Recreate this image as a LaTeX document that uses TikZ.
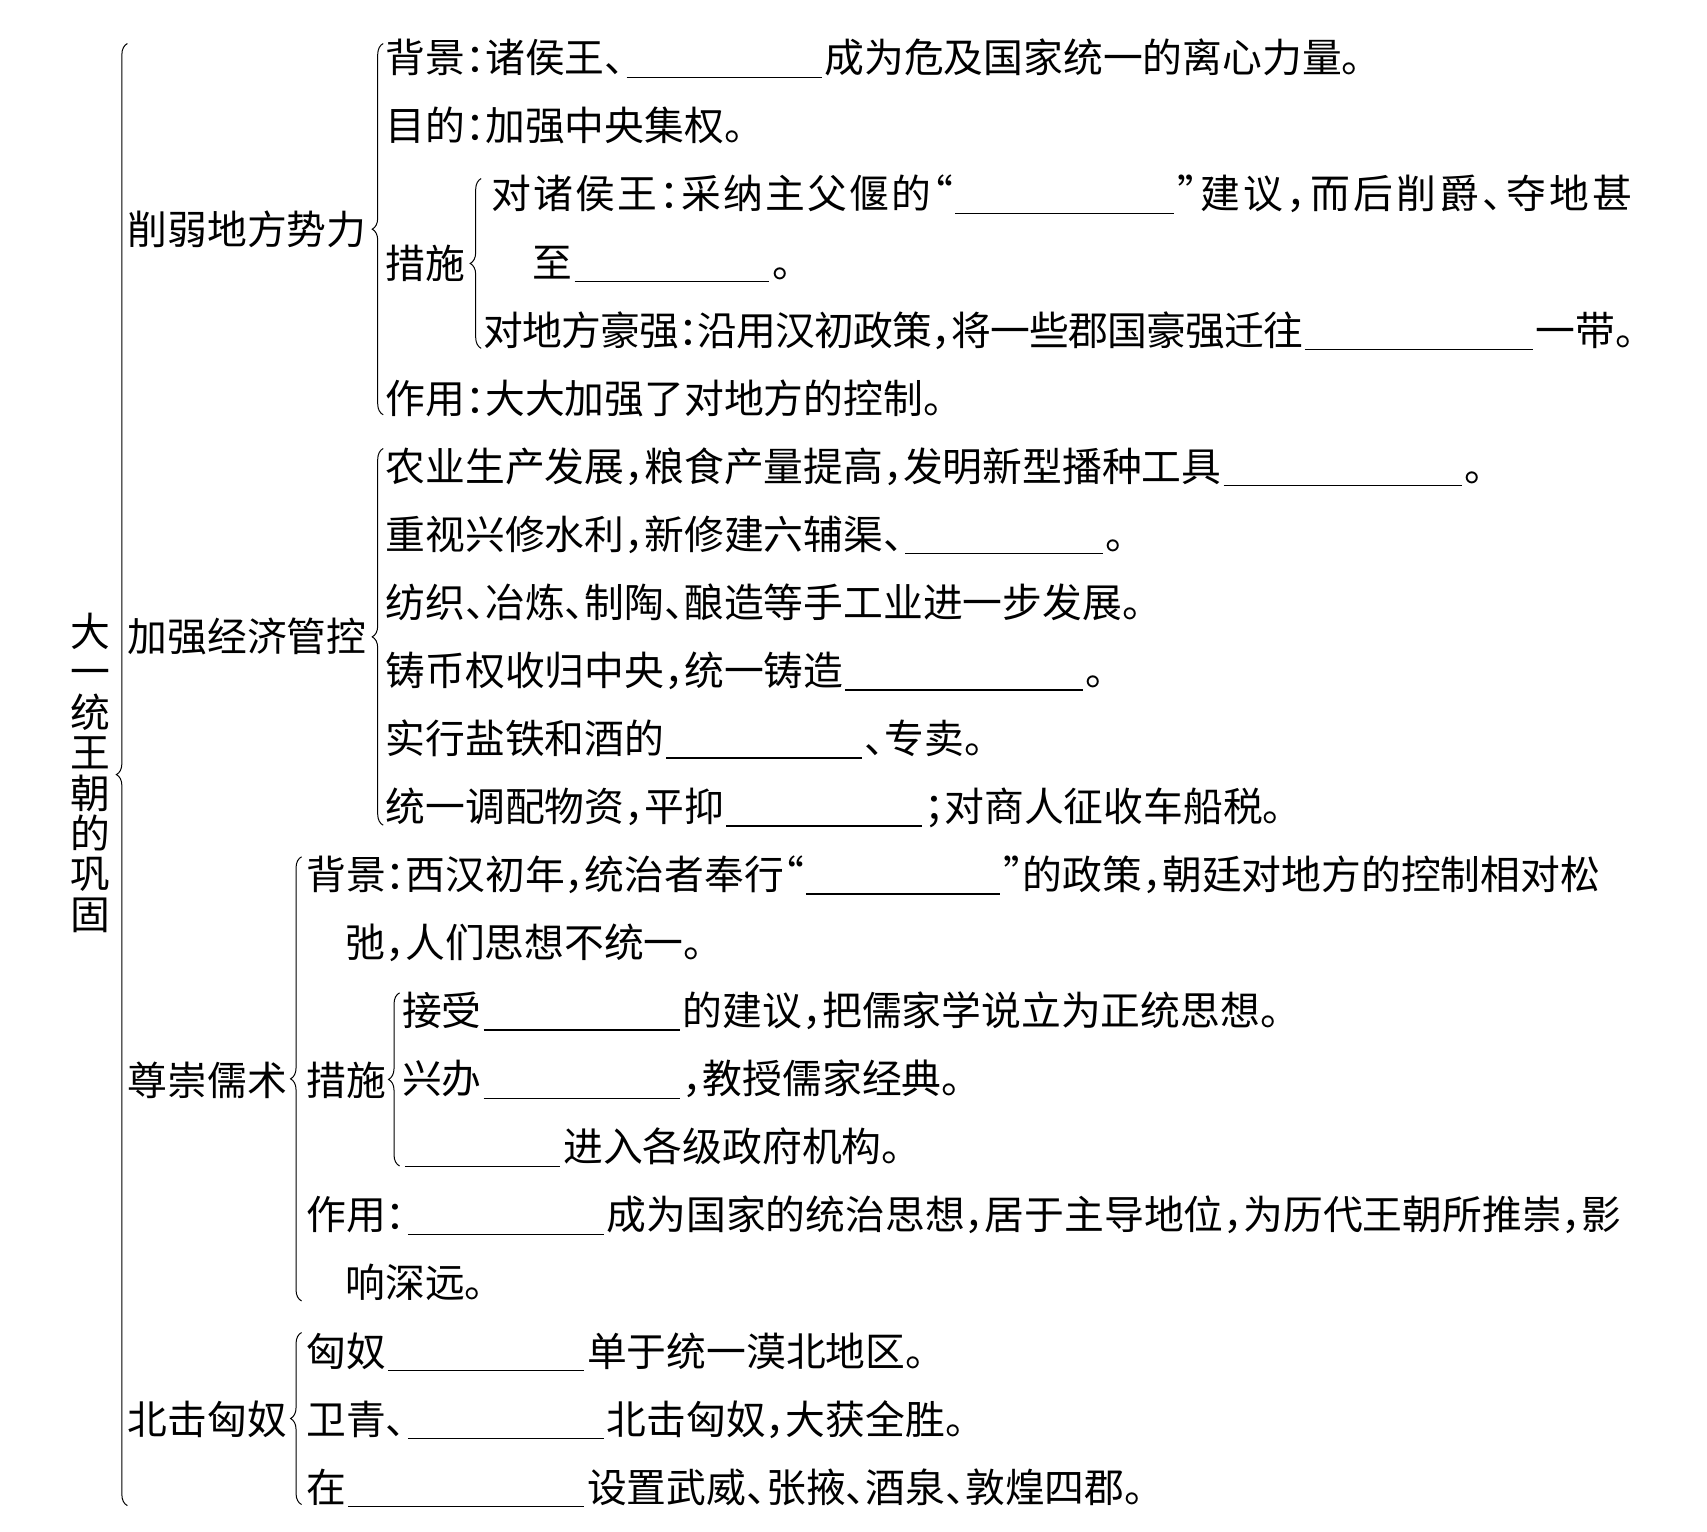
\documentclass[tikz,border=0pt]{standalone}
\usepackage{fontspec}
\setmainfont{Noto Sans CJK SC}[RawFeature=+halt]
\usepackage{tikz}
\usetikzlibrary{decorations.pathreplacing}
\tikzset{
  seg/.style={anchor=west, inner sep=0pt, text height=17.5pt, text depth=2.4pt,
    font=\fontsize{19.9pt}{24pt}\selectfont},
  brc/.style={decorate, decoration={brace, amplitude=5.5pt}, line width=0.5pt},
  blank/.style={line width=0.75pt},
}
% underline for a blank between two text pieces
\newcommand\fillin[2]{\draw[blank] ([xshift=0.8pt,yshift=-9.8pt]#1.east) -- ([xshift=-1.2pt,yshift=-9.8pt]#2.west);}
% wider or tighter spacing of a text piece
\newcommand\spaced[2]{{\addfontfeature{LetterSpace=#1}#2}}

\begin{document}
\begin{tikzpicture}[x=0.54435pt, y=-0.54435pt]
      \useasboundingbox (0,0) rectangle (1568,1407);
      % Title, written top to bottom
      \foreach \ch [count=\i from 0] in {大,一,统,王,朝,的,巩,固}
        \node[seg, anchor=center] (t\i) at (83,580+37.1*\i) {\ch};
      % Define brace ends
      \coordinate (mainTop) at (117,40);
      \coordinate (mainBot) at (117,1383);
      \coordinate (xueTop) at (352,40);
      \coordinate (xueBot) at (352,381);
      \coordinate (csaTop) at (442,164);
      \coordinate (csaBot) at (442,320);
      \coordinate (jiaTop) at (352,412);
      \coordinate (jiaBot) at (352,758);
      \coordinate (zunTop) at (277,787);
      \coordinate (zunBot) at (277,1195);
      \coordinate (csbTop) at (367,912);
      \coordinate (csbBot) at (367,1071);
      \coordinate (beiTop) at (277,1224);
      \coordinate (beiBot) at (277,1382);
      % Draw the braces
      \draw[brc] (mainBot) -- (mainTop);
      \draw[brc] (xueBot) -- (xueTop);
      \draw[brc] (csaBot) -- (csaTop);
      \draw[brc] (jiaBot) -- (jiaTop);
      \draw[brc] (zunBot) -- (zunTop);
      \draw[brc] (csbBot) -- (csbTop);
      \draw[brc] (beiBot) -- (beiTop);
      % Headings
      \node[seg] (xue) at (117,211) {削弱地方势力};
      \node[seg] (csa) at (354,242) {措施};
      \node[seg] (jia) at (117,585) {加强经济管控};
      \node[seg] (zun) at (117,992) {尊崇儒术};
      \node[seg] (csb) at (281,992) {措施};
      \node[seg] (bei) at (117,1304) {北击匈奴};
      % 削弱地方势力
      \node[seg] (r1a) at (354,53) {背景：诸侯王、};
      \node[seg] (r1b) at (757,53) {成为危及国家统一的离心力量。};
      \node[seg] (r2a) at (354,115.5) {目的：加强中央集权。};
      \node[seg] (r3a) at (451,178) {\spaced{5.5}{对诸侯王：采纳主父偃的“}};
      \node[seg] (r3b) at (1081,178) {\spaced{8.5}{”建议，而后削爵、夺地甚}};
      \node[seg] (r4a) at (489,240.6) {至};
      \node[seg] (r4b) at (709,240.6) {。};
      \node[seg] (r5a) at (444,303.1) {\spaced{-2}{对地方豪强：沿用汉初政策，将一些郡国豪强迁往}};
      \node[seg] (r5b) at (1410,303.1) {一带。};
      \node[seg] (r6a) at (354,365.6) {作用：大大加强了对地方的控制。};
      % 加强经济管控
      \node[seg] (r7a) at (354,428.1) {农业生产发展，粮食产量提高，发明新型播种工具};
      \node[seg] (r7b) at (1345,428.1) {。};
      \node[seg] (r8a) at (354,490.6) {重视兴修水利，新修建六辅渠、};
      \node[seg] (r8b) at (1015,490.6) {。};
      \node[seg] (r9a) at (354,553.2) {纺织、冶炼、制陶、酿造等手工业进一步发展。};
      \node[seg] (r10a) at (354,615.7) {铸币权收归中央，统一铸造};
      \node[seg] (r10b) at (997,615.7) {。};
      \node[seg] (r11a) at (354,678.2) {实行盐铁和酒的};
      \node[seg] (r11b) at (794,678.2) {、专卖。};
      \node[seg] (r12a) at (354,740.7) {统一调配物资，平抑};
      \node[seg] (r12b) at (849,740.7) {；对商人征收车船税。};
      % 尊崇儒术
      \node[seg] (r13a) at (281,803.2) {背景：西汉初年，统治者奉行“};
      \node[seg] (r13b) at (921,803.2) {”的政策，朝廷对地方的控制相对松};
      \node[seg] (r14a) at (317,865.8) {弛，人们思想不统一。};
      \node[seg] (r15a) at (369,928.3) {接受};
      \node[seg] (r15b) at (627,928.3) {的建议，把儒家学说立为正统思想。};
      \node[seg] (r16a) at (369,990.8) {兴办};
      \node[seg] (r16b) at (627,990.8) {，教授儒家经典。};
      \coordinate (r17a) at (372,1053.3);
      \node[seg] (r17b) at (517,1053.3) {进入各级政府机构。};
      \node[seg] (r18a) at (281,1115.8) {作用：};
      \node[seg] (r18b) at (557,1115.8) {成为国家的统治思想，居于主导地位，为历代王朝所推崇，影};
      \node[seg] (r19a) at (317,1178.4) {响深远。};
      % 北击匈奴
      \node[seg] (r20a) at (281,1240.9) {匈奴};
      \node[seg] (r20b) at (539,1240.9) {单于统一漠北地区。};
      \node[seg] (r21a) at (281,1303.4) {卫青、};
      \node[seg] (r21b) at (557,1303.4) {北击匈奴，大获全胜。};
      \node[seg] (r22a) at (281,1365.9) {在};
      \node[seg] (r22b) at (539,1365.9) {设置武威、张掖、酒泉、敦煌四郡。};
      % Blanks to fill in
      \fillin{r1a}{r1b}
      \fillin{r3a}{r3b}
      \fillin{r4a}{r4b}
      \fillin{r5a}{r5b}
      \fillin{r7a}{r7b}
      \fillin{r8a}{r8b}
      \fillin{r10a}{r10b}
      \fillin{r11a}{r11b}
      \fillin{r12a}{r12b}
      \fillin{r13a}{r13b}
      \fillin{r15a}{r15b}
      \fillin{r16a}{r16b}
      \draw[blank] ([yshift=-9.8pt]r17a) -- ([xshift=-1.2pt,yshift=-9.8pt]r17b.west);
      \fillin{r18a}{r18b}
      \fillin{r20a}{r20b}
      \fillin{r21a}{r21b}
      \fillin{r22a}{r22b}
    \end{tikzpicture}
\end{document}
